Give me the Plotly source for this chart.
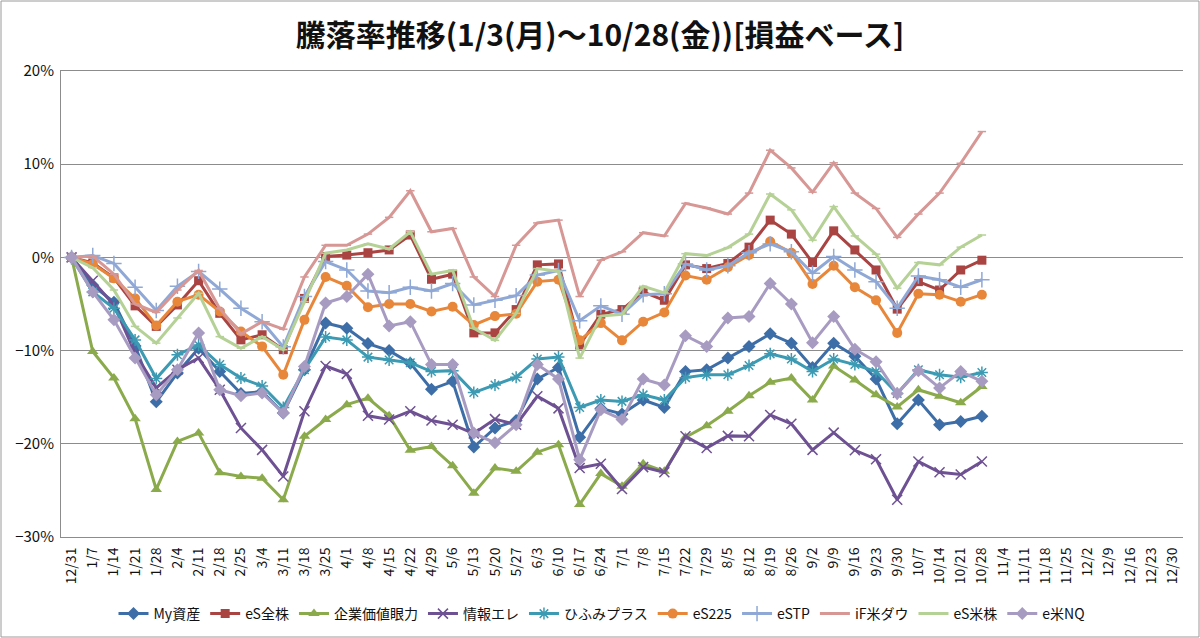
import plotly.graph_objects as go

dates = ["12/31","1/7","1/14","1/21","1/28","2/4","2/11","2/18","2/25","3/4","3/11","3/18","3/25",
         "4/1","4/8","4/15","4/22","4/29","5/6","5/13","5/20","5/27","6/3","6/10","6/17","6/24",
         "7/1","7/8","7/15","7/22","7/29","8/5","8/12","8/19","8/26","9/2","9/9","9/16","9/23","9/30",
         "10/7","10/14","10/21","10/28","11/4","11/11","11/18","11/25","12/2","12/9","12/16","12/23","12/30"]

my_shisan = [0, -3.0, -4.8, -9.5, -15.5, -12.4, -9.75, -12.25, -14.6, -14.4, -16.7, -12.05, -7.05, -7.6,
             -9.25, -10.0, -11.35, -14.15, -13.3, -20.35, -18.3, -17.5, -13.05, -11.8, -19.3, -16.2, -16.8,
             -15.3, -16.1, -12.25, -12.05, -10.8, -9.55, -8.2, -9.2, -11.8, -9.2, -10.6, -13.05, -17.85,
             -15.3, -17.95, -17.6, -17.05]
es_zenkabu = [0, -0.6, -2.2, -5.2, -7.4, -5.1, -2.5, -6.0, -8.85, -8.3, -9.9, -4.4, 0.1, 0.25, 0.5, 0.8,
              2.4, -2.35, -1.8, -8.1, -8.1, -5.6, -0.8, -0.7, -9.4, -6.1, -5.6, -3.7, -4.6, -0.8, -1.2,
              -0.65, 1.1, 4.0, 2.5, -0.55, 2.85, 0.8, -1.35, -5.55, -2.6, -3.5, -1.35, -0.3]
kigyo = [0, -10.1, -12.95, -17.3, -24.9, -19.75, -18.85, -23.1, -23.5, -23.7, -26.0, -19.2, -17.4, -15.8,
         -15.1, -17.0, -20.7, -20.3, -22.35, -25.3, -22.6, -22.95, -20.9, -20.1, -26.5, -23.2, -24.55,
         -22.15, -22.95, -19.3, -18.05, -16.5, -14.85, -13.4, -12.95, -15.3, -11.65, -13.15, -14.75,
         -16.05, -14.2, -14.9, -15.6, -13.85]
joho_ele = [0, -2.5, -5.1, -10.3, -14.0, -12.05, -10.8, -14.2, -18.3, -20.65, -23.5, -16.5, -11.65, -12.5,
            -17.0, -17.4, -16.5, -17.5, -17.95, -18.9, -17.35, -17.95, -14.9, -16.2, -22.6, -22.15, -24.85,
            -22.5, -23.05, -19.2, -20.45, -19.15, -19.2, -16.9, -17.85, -20.65, -18.8, -20.7, -21.65, -26.0,
            -21.9, -23.05, -23.3, -21.9]
hifumi = [0, -3.7, -5.45, -8.85, -13.0, -10.45, -9.4, -11.5, -12.95, -13.8, -16.1, -12.05, -8.55, -8.85,
          -10.7, -11.0, -11.3, -12.25, -12.15, -14.5, -13.7, -12.85, -10.9, -10.7, -16.1, -15.3, -15.45,
          -14.75, -15.3, -12.9, -12.6, -12.6, -11.6, -10.35, -10.9, -12.25, -10.9, -11.5, -12.25, -14.6,
          -12.05, -12.6, -12.85, -12.35]
es225 = [0, -0.7, -2.25, -4.4, -7.3, -4.75, -4.0, -5.8, -7.95, -9.55, -12.6, -6.7, -2.1, -3.05, -5.35,
         -5.0, -5.0, -5.8, -5.3, -7.25, -6.3, -6.05, -2.6, -2.4, -8.9, -7.05, -8.9, -6.9, -5.9, -1.95, -2.4,
         -1.05, 0.25, 1.7, 0.5, -2.85, -0.9, -3.2, -4.6, -8.1, -3.9, -4.0, -4.75, -4.0]
estp = [0, 0.2, -0.65, -3.2, -5.7, -3.1, -1.5, -3.4, -5.45, -6.9, -9.6, -4.2, -0.45, -1.35, -3.6, -3.8,
        -3.2, -3.6, -2.8, -5.1, -4.6, -4.1, -1.9, -1.4, -6.8, -5.2, -6.1, -4.0, -3.9, -0.7, -1.35, -0.9,
        0.5, 1.45, 0.6, -1.7, 0.1, -1.35, -2.6, -5.45, -2.0, -2.4, -3.2, -2.4]
if_dow = [0, 0.15, -1.8, -5.0, -5.9, -3.5, -1.4, -5.5, -8.2, -6.9, -7.7, -2.1, 1.3, 1.3, 2.5, 4.3, 7.15,
          2.75, 3.1, -2.1, -4.2, 1.3, 3.7, 4.0, -4.2, -0.3, 0.6, 2.65, 2.3, 5.8, 5.3, 4.65, 6.9, 11.5, 9.6,
          7.0, 10.15, 6.9, 5.25, 2.15, 4.65, 6.9, 10.1, 13.5]
es_beikabu = [0, -1.1, -3.5, -7.4, -9.2, -6.5, -3.85, -8.5, -9.75, -8.5, -9.9, -4.75, 0.45, 0.8, 1.45,
              0.9, 2.75, -1.8, -1.4, -7.6, -8.9, -6.0, -1.2, -1.5, -10.8, -6.3, -6.1, -3.1, -3.8, 0.4, 0.2,
              1.05, 2.5, 6.8, 5.1, 1.85, 5.45, 2.3, 0.35, -3.3, -0.55, -0.8, 1.1, 2.4]
e_nq = [0, -3.7, -6.7, -10.8, -14.75, -12.05, -8.1, -14.2, -14.85, -14.55, -16.7, -11.7, -4.9, -4.2, -1.8,
        -7.35, -6.9, -11.5, -11.5, -18.85, -19.9, -17.95, -11.5, -13.05, -21.7, -16.35, -17.4, -13.05,
        -13.7, -8.4, -9.55, -6.5, -6.35, -2.8, -5.0, -9.15, -6.35, -9.85, -11.2, -14.6, -12.15, -14.0,
        -12.25, -13.3]

series_names = ["My資産", "eS全株", "企業価値眼力", "情報エレ", "ひふみプラス", "eS225", "eSTP", "iF米ダウ", "eS米株", "e米NQ"]
series_values = [my_shisan, es_zenkabu, kigyo, joho_ele, hifumi, es225, estp, if_dow, es_beikabu, e_nq]

styles = [
    dict(color="#3E6EA7", symbol="diamond", size=10, open=False),
    dict(color="#A94442", symbol="square", size=9, open=False),
    dict(color="#8AAA4B", symbol="triangle-up", size=10, open=False),
    dict(color="#6E5193", symbol="x-thin", size=10, open=True),
    dict(color="#3C9AB3", symbol="asterisk", size=10, open=True),
    dict(color="#E8863A", symbol="circle", size=10, open=False),
    dict(color="#8FA8D6", symbol="cross-thin", size=11, open=True),
    dict(color="#D69795", symbol="line-ew", size=6, open=True),
    dict(color="#B5D196", symbol="line-ew", size=6, open=True),
    dict(color="#A89BC2", symbol="diamond", size=10, open=False),
]

FONT = "Noto Sans CJK JP, Noto Sans, sans-serif"
GRID = "#8C8C8C"

fig = go.Figure()
for name, vals, st in zip(series_names, series_values, styles):
    if st["open"]:
        marker = dict(symbol=st["symbol"], size=st["size"], color=st["color"],
                      line=dict(color=st["color"], width=1.5))
    else:
        marker = dict(symbol=st["symbol"], size=st["size"], color=st["color"],
                      line=dict(width=0))
    fig.add_trace(go.Scatter(
        x=dates[:len(vals)], y=vals, name=name, mode="lines+markers",
        line=dict(color=st["color"], width=3), marker=marker,
    ))

W, H = 1200, 638
L, R, T, B = 61, 17, 71, 101
pw, ph = W - L - R, H - T - B
ymin, ymax = -30, 20

fig.update_layout(
    width=W, height=H,
    margin=dict(l=L, r=R, t=T, b=B, autoexpand=False),
    paper_bgcolor="white", plot_bgcolor="white",
    font=dict(family=FONT, color="#222222"),
    title=dict(text="騰落率推移(1/3(月)～10/28(金))[損益ベース]",
               x=0.5, xanchor="center", y=1 - 35 / H, yanchor="middle",
               font=dict(size=30, family=FONT, color="#111111", weight="bold")),
    xaxis=dict(type="category", categoryorder="array", categoryarray=dates,
               range=[-0.5, len(dates) - 0.5], showgrid=False, showline=True,
               linecolor=GRID, linewidth=1, mirror=True, ticks="", tickangle=-90,
               tickfont=dict(size=14, family=FONT, color="#111111"),
               ticklabelstandoff=4, zeroline=False),
    xaxis2=dict(type="linear", overlaying="x", anchor="free",
                position=(0 - ymin) / (ymax - ymin), side="bottom",
                range=[-0.5, len(dates) - 0.5],
                tickvals=[i + 0.5 for i in range(len(dates) - 1)],
                ticks="outside", ticklen=5, tickcolor=GRID, tickwidth=1,
                showticklabels=False, showgrid=False, zeroline=False,
                showline=True, linecolor=GRID, linewidth=1.3, layer="below traces"),
    yaxis=dict(range=[ymin, ymax], dtick=10, ticksuffix="%", showgrid=True,
               gridcolor=GRID, gridwidth=1, zeroline=False, showline=True,
               linecolor=GRID, linewidth=1, ticks="", ticklabelstandoff=3,
               tickfont=dict(size=15, family=FONT, color="#111111")),
    legend=dict(orientation="h", x=(602 - L) / pw, xanchor="center", y=-77 / ph, yanchor="middle",
                font=dict(size=14, family=FONT, color="#111111"), itemwidth=30,
                bgcolor="rgba(0,0,0,0)"),
    showlegend=True,
)

fig.add_shape(type="rect", xref="paper", yref="paper",
              x0=-(L - 1) / pw, x1=1 + (R - 1) / pw, y0=-(B - 1) / ph, y1=1 + (T - 1) / ph,
              line=dict(color="#9A9A9A", width=1), fillcolor="rgba(0,0,0,0)", layer="below")

fig.write_html("out.html", config={"displayModeBar": False},
               post_script="document.body.style.margin='0';document.body.style.overflow='hidden';")
